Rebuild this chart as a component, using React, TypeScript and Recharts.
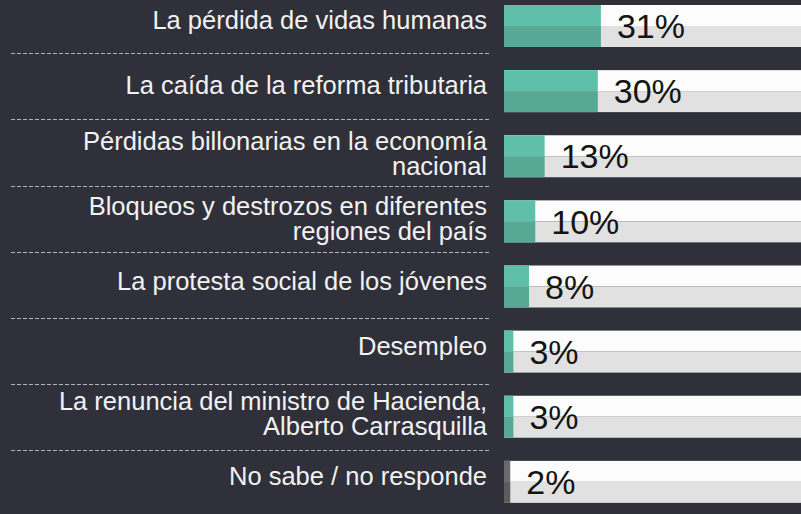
import React from 'react';
import { BarChart, Bar, XAxis, YAxis, LabelList } from 'recharts';

const categories: string[][] = [
  ['La pérdida de vidas humanas'],
  ['La caída de la reforma tributaria'],
  ['Pérdidas billonarias en la economía', 'nacional'],
  ['Bloqueos y destrozos en diferentes', 'regiones del país'],
  ['La protesta social de los jóvenes'],
  ['Desempleo'],
  ['La renuncia del ministro de Hacienda,', 'Alberto Carrasquilla'],
  ['No sabe / no responde'],
];
const values: number[] = [31, 30, 13, 10, 8, 3, 3, 2];
const valueLabels: string[] = ['31%', '30%', '13%', '10%', '8%', '3%', '3%', '2%'];
const isNoAnswer: boolean[] = [false, false, false, false, false, false, false, true];

const data = categories.map((c, i) => ({
  name: c.join('\n'),
  value: values[i],
  label: valueLabels[i],
  gray: isNoAnswer[i],
}));

const BG = '#2f3039';
const FONT = '"Liberation Sans", Arial, sans-serif';

const TwoTone = (props: any) => {
  const { x, y, width, height, top, bottom } = props;
  if (width == null || height == null || width <= 0) return <g />;
  const half = height / 2;
  return (
    <g>
      <rect x={x} y={y} width={width} height={half} fill={top} />
      <rect x={x} y={y + half} width={width} height={height - half} fill={bottom} />
    </g>
  );
};

const BarShape = (props: any) => {
  const gray = props.payload && props.payload.gray;
  return (
    <TwoTone
      {...props}
      top={gray ? '#6a6a6a' : '#5fbfab'}
      bottom={gray ? '#5c5c5c' : '#57a996'}
    />
  );
};

const TrackShape = (props: any) => (
  <TwoTone {...props} top="#fcfcfc" bottom="#e1e1e1" />
);

const CategoryTick = (props: any) => {
  const { x, y, payload, index } = props;
  const lines: string[] = String(payload.value).split('\n');
  const tx = x - 17;
  const sepY = Math.round(y + 27.7 + index * 1.0) + 0.5;
  return (
    <g>
      {lines.length === 1 ? (
        <text x={tx} y={y + 3.7} textAnchor="end" fill="#f2f2f2" fontSize={25.5} fontFamily={FONT}>
          {lines[0]}
        </text>
      ) : (
        <text textAnchor="end" fill="#f2f2f2" fontSize={25.5} fontFamily={FONT}>
          <tspan x={tx} y={y - 6.3}>{lines[0]}</tspan>
          <tspan x={tx} y={y + 18.7}>{lines[1]}</tspan>
        </text>
      )}
      {index < categories.length - 1 && (
        <line
          x1={x - 493}
          x2={x - 14}
          y1={sepY}
          y2={sepY}
          stroke="#b4b4b8"
          strokeWidth={1}
          strokeDasharray="4 2"
        />
      )}
    </g>
  );
};

const ValueLabel = (props: any) => {
  const { x, y, width, height, value } = props;
  return (
    <text
      x={x + width + 16}
      y={y + height / 2 + 12.2}
      fill="#141414"
      fontSize={34}
      fontFamily={FONT}
    >
      {value}
    </text>
  );
};

export default function App() {
  return (
    <div
      style={{
        position: 'fixed',
        left: 0,
        top: 0,
        width: 801,
        height: 514,
        background: BG,
        overflow: 'hidden',
      }}
    >
      <div style={{ position: 'absolute', left: 0, top: -7 }}>
        <BarChart
          width={801}
          height={521}
          data={data}
          layout="vertical"
          margin={{ top: 0, right: 0, bottom: 0, left: 0 }}
          barSize={42}
        >
          <XAxis type="number" domain={[0, 95]} hide allowDataOverflow />
          <YAxis
            type="category"
            dataKey="name"
            width={504}
            axisLine={false}
            tickLine={false}
            tickSize={0}
            tickMargin={0}
            interval={0}
            tick={<CategoryTick />}
          />
          <Bar
            dataKey="value"
            isAnimationActive={false}
            shape={<BarShape />}
            background={<TrackShape />}
          >
            <LabelList dataKey="label" content={<ValueLabel />} />
          </Bar>
        </BarChart>
      </div>
    </div>
  );
}
